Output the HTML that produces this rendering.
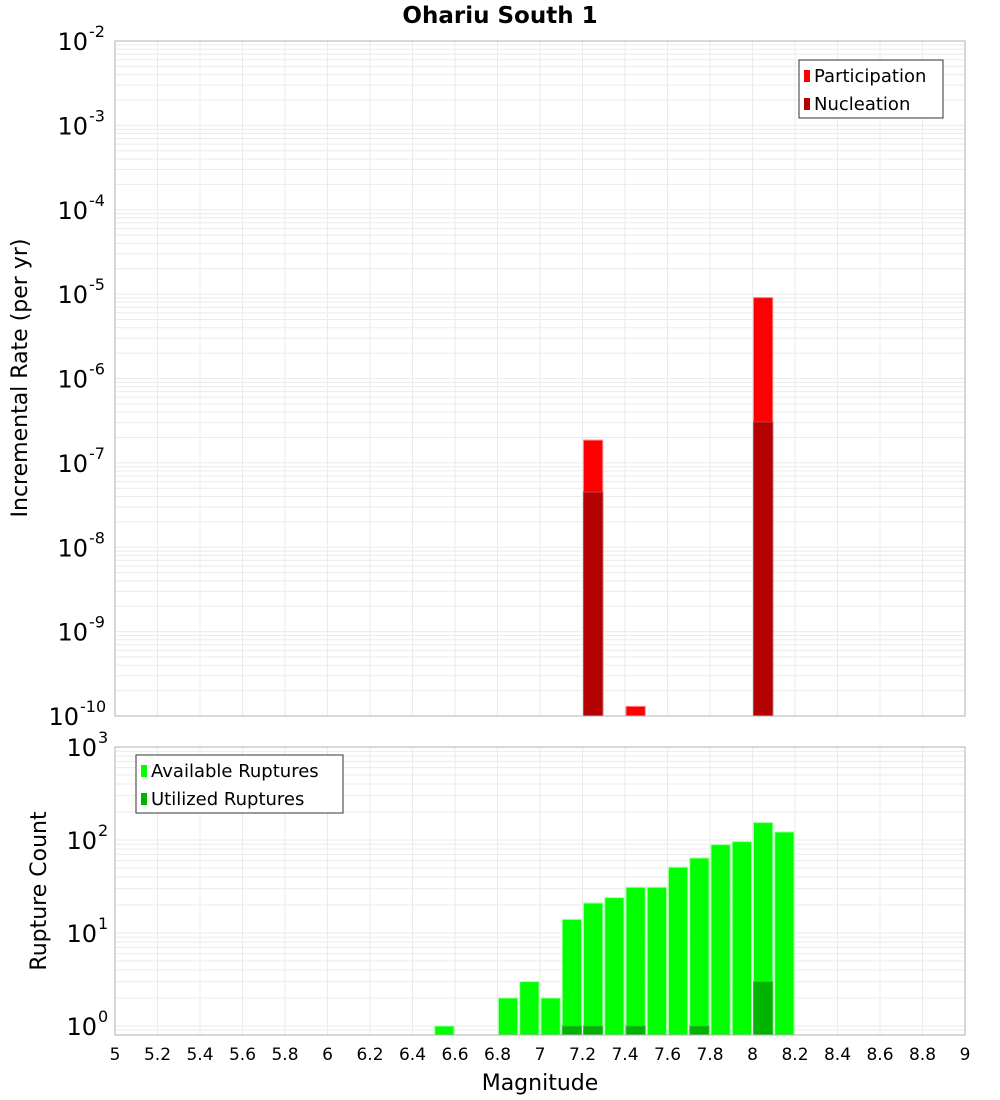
<!DOCTYPE html>
<html><head><meta charset="utf-8"><style>
body{margin:0;background:#fff;}
svg{display:block;font-family:"DejaVu Sans","Liberation Sans",sans-serif;}
</style></head><body>
<svg id="chart" width="1000" height="1100" viewBox="0 0 1000 1100">
<text x="500" y="23" text-anchor="middle" font-size="23" font-weight="bold">Ohariu South 1</text>
<g id="topg"></g>
<g id="botg"></g>
<text transform="translate(27,378) rotate(-90)" text-anchor="middle" font-size="22">Incremental Rate (per yr)</text>
<text transform="translate(46,891) rotate(-90)" text-anchor="middle" font-size="22">Rupture Count</text>
<text x="540" y="1090" text-anchor="middle" font-size="22">Magnitude</text>
</svg>
<script>
const rateBins = [7.25, 7.45, 8.05];
const participation = [1.86e-7, 1.3e-10, 9.1e-6];
const nucleation = [4.5e-8, 0, 3.05e-7];
const countBins = [6.55, 6.85, 6.95, 7.05, 7.15, 7.25, 7.35, 7.45, 7.55, 7.65, 7.75, 7.85, 7.95, 8.05, 8.15];
const available = [1, 2, 3, 2, 14, 21, 24, 31, 31, 51, 64, 89, 96, 154, 122];
const utilized = [0, 0, 0, 0, 1, 1, 0, 1, 0, 0, 1, 0, 0, 3, 0];
const xTicks = [5,5.2,5.4,5.6,5.8,6,6.2,6.4,6.6,6.8,7,7.2,7.4,7.6,7.8,8,8.2,8.4,8.6,8.8,9];
const rateExps = [-2,-3,-4,-5,-6,-7,-8,-9,-10];
const countExps = [3,2,1,0];

const NS='http://www.w3.org/2000/svg';
const L=115,R=965;
const xs=m=>L+(m-5)/4*(R-L);
const topT=41,topB=716,topMax=-2,topMin=-10;
const yTop=v=>topT+(topMax-Math.log10(v))/(topMax-topMin)*(topB-topT);
const botT=747,pxDec=93,bot0=1026,botB=1035;
const yBot=v=>bot0-Math.log10(v)*pxDec;
function mk(tag,attrs,parent){const e=document.createElementNS(NS,tag);for(const k in attrs)e.setAttribute(k,attrs[k]);parent.appendChild(e);return e;}

function frame(g,t,b,logMin,logMax,yf){
  for(let d=Math.floor(logMin);d<logMax;d++){for(let k=1;k<10;k++){const v=k*Math.pow(10,d);const lv=Math.log10(v);if(lv<logMin||lv>logMax)continue;const y=yf(v);
    const ln=mk('line',{x1:L,x2:R,y1:y,y2:y,stroke:'#ebebeb','stroke-width':1},g);
    
    }}
  xTicks.forEach(m=>{const ln=mk('line',{x1:xs(m),x2:xs(m),y1:t,y2:b,stroke:'#ebebeb','stroke-width':1},g);
    
    });
}
const topG=document.getElementById('topg'),botG=document.getElementById('botg');
frame(topG,topT,topB,topMin,topMax,yTop);
frame(botG,botT,botB,Math.log10(0.8),3,yBot);

function bar(g,m,v,base,yf,fill,stroke,name){
  const x=xs(m-0.05)+1,w=xs(m+0.05)-xs(m-0.05)-2;const y=yf(v);
  const r=mk('rect',{x:x,y:y,width:w,height:base-y,fill:fill,stroke:stroke,'stroke-width':1},g);
  
  
}
rateBins.forEach((m,i)=>{if(participation[i]>0)bar(topG,m,participation[i],topB,yTop,'#ff0000','#ff8080','participation-bar');
  if(nucleation[i]>0)bar(topG,m,nucleation[i],topB,yTop,'#b30000','#c04040','nucleation-bar');});
countBins.forEach((m,i)=>{if(available[i]>0)bar(botG,m,available[i],botB,yBot,'#00ff00','#a0ffa0','available-bar');
  if(utilized[i]>0)bar(botG,m,utilized[i],botB,yBot,'#00b300','#40c040','utilized-bar');});

[[topG,topT,topB],[botG,botT,botB]].forEach(([g,t,b])=>{const r=mk('rect',{x:L,y:t,width:R-L,height:b-t,fill:'none',stroke:'#b0b0b0','stroke-width':1},g);
  
  });

function ytick(g,e,y){const t=mk('text',{x:106-(String(e).length*9),y:y+9,'text-anchor':'end','font-size':24},g);
  
  
  t.textContent='10';
  const s=mk('text',{x:106-(String(e).length*9)+1,y:y-4,'text-anchor':'start','font-size':16},g);
  
  
  s.textContent=String(e);
}
rateExps.forEach(e=>ytick(topG,e,yTop(Math.pow(10,e))));
countExps.forEach(e=>ytick(botG,e,yBot(Math.pow(10,e))));
xTicks.forEach(m=>{const t=mk('text',{x:xs(m),y:1060,'text-anchor':'middle','font-size':17},botG);
  
  
  t.textContent=String(m);});

function legend(g,x,y,w,items){const r=mk('rect',{x:x,y:y,width:w,height:58,fill:'#fff',stroke:'#333','stroke-width':1},g);
  
  
  items.forEach((it,i)=>{const sw=mk('rect',{x:x+5,y:y+10+i*28,width:6,height:12,fill:it[1]},g);
    
    
    const t=mk('text',{x:x+15,y:y+22+i*28,'font-size':18},g);
    
    
    t.textContent=it[0];});}
legend(topG,799,60,144,[['Participation','#ff0000'],['Nucleation','#b30000']]);
legend(botG,136,755,207,[['Available Ruptures','#00ff00'],['Utilized Ruptures','#00b300']]);
</script>
</body></html>
